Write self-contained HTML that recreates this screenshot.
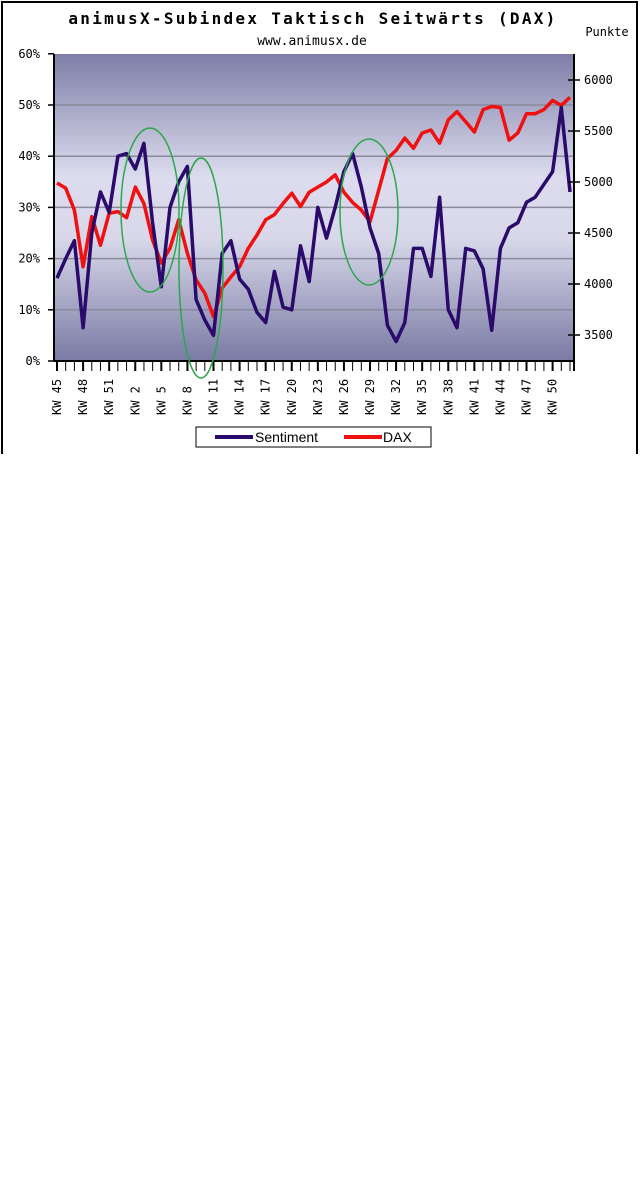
<!DOCTYPE html>
<html><head><meta charset="utf-8"><style>
body{margin:0;background:#fff;}
svg text{font-family:"DejaVu Sans Mono","Liberation Mono",monospace;}
</style></head><body>
<svg width="640" height="1188" viewBox="0 0 640 1188" xmlns="http://www.w3.org/2000/svg">
<defs>
<linearGradient id="bg" x1="0" y1="0" x2="0" y2="1">
<stop offset="0" stop-color="#7e7ea8"/>
<stop offset="0.4" stop-color="#dcdcee"/>
<stop offset="0.6" stop-color="#d8d8ea"/>
<stop offset="1" stop-color="#7a7aa4"/>
</linearGradient>
</defs>
<path d="M2 454 V2 H637 V454" fill="none" stroke="#000" stroke-width="2"/>
<text x="313" y="24" text-anchor="middle" font-size="16" font-weight="bold" letter-spacing="2.3">animusX-Subindex Taktisch Seitwärts (DAX)</text>
<text x="312" y="45" text-anchor="middle" font-size="13">www.animusx.de</text>
<text x="607" y="36" text-anchor="middle" font-size="12">Punkte</text>
<rect x="54" y="54" width="520" height="307" fill="url(#bg)"/>
<g id="grid"></g>
<g id="series"></g>
<g id="axes"></g>
<g fill="none" stroke="#2aa84a" stroke-width="1.5">
<ellipse cx="150" cy="210" rx="29" ry="82"/>
<ellipse cx="201" cy="268" rx="22" ry="110"/>
<ellipse cx="369" cy="212" rx="29" ry="73"/>
</g>
<g>
<rect x="196" y="427" width="235" height="20" fill="#fff" stroke="#000"/>
<line x1="215" y1="437" x2="253" y2="437" stroke="#2a0a6a" stroke-width="4"/>
<text x="255" y="442" font-size="14" style="font-family:'Liberation Sans',sans-serif">Sentiment</text>
<line x1="344" y1="437" x2="382" y2="437" stroke="#f01010" stroke-width="4"/>
<text x="383" y="442" font-size="14" style="font-family:'Liberation Sans',sans-serif">DAX</text>
</g>
</svg>
<script>
const weeks=[45,46,47,48,49,50,51,52,1,2,3,4,5,6,7,8,9,10,11,12,13,14,15,16,17,18,19,20,21,22,23,24,25,26,27,28,29,30,31,32,33,34,35,36,37,38,39,40,41,42,43,44,45,46,47,48,49,50,51,52];
const sentiment=[16.2,20,23.5,6.5,25,33,29,40,40.5,37.5,42.5,27,14.5,30,35,38,12,8,5,21,23.5,16,14,9.5,7.5,17.5,10.5,10,22.5,15.5,30,24,30,37,40.5,34,26,21,7,3.8,7.5,22,22,16.5,32,10,6.5,22,21.5,18,6,22,26,27,31,32,34.5,37,49.5,33];
const dax=[4990,4940,4725,4170,4660,4380,4695,4710,4650,4950,4790,4430,4205,4350,4630,4300,4040,3910,3680,3960,4070,4170,4350,4480,4630,4680,4790,4890,4760,4900,4950,5000,5070,4900,4800,4725,4610,4920,5230,5310,5430,5330,5480,5510,5380,5610,5690,5590,5490,5710,5740,5730,5410,5480,5670,5670,5710,5800,5750,5830];
const leftTicks=[0,10,20,30,40,50,60];
const rightTicks=[3500,4000,4500,5000,5500,6000];
const labelIdx=[0,3,6,9,12,15,18,21,24,27,30,33,36,39,42,45,48,51,54,57];
const NS='http://www.w3.org/2000/svg';
const xS=i=>57+i*(513/59);
const yL=v=>361-v*5.12;
const yR=p=>335-(p-3500)*51/500;
function mk(t,a,p){const e=document.createElementNS(NS,t);for(const k in a)e.setAttribute(k,a[k]);p.appendChild(e);return e;}
const grid=document.getElementById('grid'),axes=document.getElementById('axes'),series=document.getElementById('series');
leftTicks.forEach(v=>{
 if(v>0&&v<60){const g=mk('line',{x1:54,x2:574,y1:yL(v),y2:yL(v),stroke:'#8a8a9a','stroke-width':1.5},grid);
 
 }
 const t=mk('line',{x1:48,x2:54,y1:yL(v),y2:yL(v),stroke:'#000','stroke-width':1.5},axes);
 
 
 const l=mk('text',{x:40,y:yL(v)+4,'text-anchor':'end','font-size':12},axes);
 l.textContent=v+'%';
 
 
});
rightTicks.forEach(p=>{
 const t=mk('line',{x1:568,x2:580,y1:yR(p),y2:yR(p),stroke:'#000','stroke-width':1.5},axes);
 
 
 const l=mk('text',{x:584,y:yR(p)+4,'font-size':12},axes);
 l.textContent=p;
 
 
});
const al=mk('line',{x1:54,x2:54,y1:54,y2:361,stroke:'#000','stroke-width':2},axes);


const ar=mk('line',{x1:574,x2:574,y1:54,y2:371,stroke:'#000','stroke-width':2},axes);


const ab=mk('line',{x1:54,x2:574,y1:361,y2:361,stroke:'#000','stroke-width':2},axes);


weeks.forEach((w,i)=>{
 const maj=labelIdx.includes(i);
 const t=mk('line',{x1:xS(i),x2:xS(i),y1:361,y2:371,stroke:'#000','stroke-width':maj?2:1},axes);
 
 
 if(maj){const x=xS(i)+4,y=415;
 const l=mk('text',{x:x,y:y,'font-size':12,transform:`rotate(-90 ${x} ${y})`},axes);
 l.textContent='KW '+w;
 
 }
});
const pd=dax.map((p,i)=>xS(i).toFixed(1)+','+yR(p).toFixed(1)).join(' ');
const dl=mk('polyline',{points:pd,fill:'none',stroke:'#f01010','stroke-width':3.5,'stroke-linejoin':'round'},series);


const ps=sentiment.map((v,i)=>xS(i).toFixed(1)+','+yL(v).toFixed(1)).join(' ');
const sl=mk('polyline',{points:ps,fill:'none',stroke:'#2a0a6a','stroke-width':3.5,'stroke-linejoin':'round'},series);


</script>
</body></html>
